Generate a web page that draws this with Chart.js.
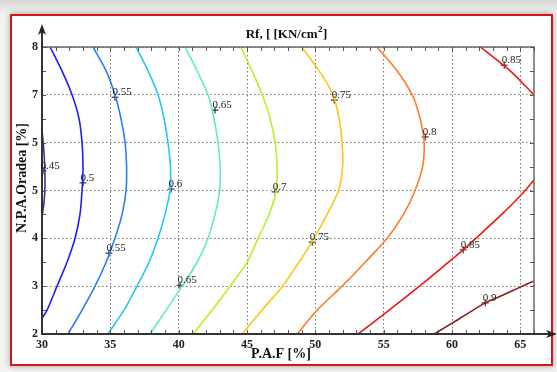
<!DOCTYPE html>
<html>
<head>
<meta charset="utf-8">
<script src="https://cdn.jsdelivr.net/npm/chart.js@4.4.1/dist/chart.umd.min.js"></script>
<style>
html,body{margin:0;padding:0;width:557px;height:372px;overflow:hidden;
  background:linear-gradient(#d6d6d6,#f2f2f2 14px,#f2f2f2);}
#frame{position:absolute;left:10px;top:14px;width:539px;height:348px;
  border:2px solid #d2151b;background:#fff;box-shadow:0 0 6px rgba(0,0,0,.35);}
canvas{position:absolute;left:0;top:0;}
</style>
</head>
<body>
<div id="frame"></div>
<canvas id="c" width="557" height="372"></canvas>
<script>
// Axes
const xRange = [30, 66];
const yRange = [2, 8];
const xTickValues = [30, 35, 40, 45, 50, 55, 60, 65];
const yTickValues = [2, 3, 4, 5, 6, 7, 8];
const yTickLabels = ['2', '3', '4', '5', '5', '7', '8'];

// Contour lines of Rf, each as [P.A.F, N.P.A.Oradea] pairs
const c045 = [[30.0,6.26],[30.12,5.9],[30.2,5.5],[30.22,5.1],[30.15,4.75],[30.0,4.45]];
const c050 = [[30.59,8],[31.46,7.5],[32.20,7],[32.71,6.5],[32.93,6],[33.0,5.5],[32.93,5],[32.78,4.5],[32.42,4],[31.83,3.5],[31.10,3],[30.37,2.5],[30.0,2.33]];
const c055 = [[33.73,8],[34.69,7.5],[35.34,7],[35.78,6.5],[36.08,6],[36.19,5.5],[36.15,5],[35.86,4.5],[35.34,4],[34.69,3.5],[33.88,3],[32.93,2.5],[31.90,2]];
const c060 = [[36.88,8],[37.76,7.5],[38.49,7],[38.93,6.5],[39.22,6],[39.40,5.5],[39.37,5],[39.0,4.5],[38.49,4],[37.83,3.5],[36.95,3],[36.0,2.5],[34.83,2]];
const c065 = [[40.47,8],[41.35,7.5],[42.15,7],[42.59,6.5],[42.88,6],[43.03,5.5],[43.00,5],[42.66,4.5],[42.15,4],[41.35,3.5],[40.25,3],[39.08,2.5],[37.91,2]];
const c070 = [[44.55,8],[45.37,7.5],[46.11,7],[46.69,6.5],[47.06,6],[47.20,5.5],[47.13,5],[46.62,4.5],[45.81,4],[45.01,3.5],[43.76,3],[42.45,2.5],[41.05,2]];
const c075 = [[49.0,8],[50.28,7.5],[51.30,7],[51.74,6.5],[51.96,6],[52.0,5.5],[51.70,5],[50.86,4.5],[49.91,4],[48.8,3.5],[47.6,3],[46.1,2.5],[44.64,2]];
const c080 = [[54.52,8],[55.99,7.5],[57.09,7],[57.67,6.5],[57.96,6],[57.85,5.5],[57.3,5],[56.45,4.5],[55.26,4],[53.65,3.5],[51.96,3],[50.13,2.5],[48.67,2]];
const c085a = [[62.07,8],[64.26,7.5],[66,7]];
const c085b = [[66,5.22],[65.07,4.91],[63.60,4.49],[61.70,3.99],[60.82,3.76],[59.65,3.48],[57.53,2.98],[55.40,2.5],[53.13,2]];
const c090 = [[66,3.11],[65,2.98],[63.53,2.79],[62.43,2.65],[60.60,2.33],[58.70,2]];

const contours = [c045, c050, c055, c060, c065, c070, c075, c080, c085a, c085b, c090];
const contourLevels = ['0.45','0.5','0.55','0.6','0.65','0.7','0.75','0.8','0.85','0.85','0.9'];
const contourColors = ['#3434a6','#1f1ff0','#2f7cf5','#25c8f5','#5ff0b0','#b8f02a','#f7c818','#ff7a2a','#ee1616','#ee1616','#8a1a1a'];

// Inline level labels (marker position and text)
const labelX = [30.07, 33.0, 35.34, 34.9, 39.44, 42.66, 40.10, 47.06, 51.38, 49.77, 58.04, 63.82, 60.82, 62.43];
const labelY = [5.41, 5.16, 6.95, 3.69, 5.03, 6.68, 3.02, 4.97, 6.89, 3.92, 6.12, 7.62, 3.76, 2.65];
const labelText = ['0.45','0.5','0.55','0.55','0.6','0.65','0.65','0.7','0.75','0.75','0.8','0.85','0.85','0.9'];

const titleMain = 'Rf, [ [KN/cm';
const titleSup = '2';
const titleEnd = ']';
const xTitle = 'P.A.F [%]';
const yTitle = 'N.P.A.Oradea [%]';

const serif = '"Liberation Serif", "Times New Roman", serif';

const datasets = contours.map((pts, i) => ({
  label: contourLevels[i],
  data: pts.map(p => ({x: p[0], y: p[1]})),
  showLine: true,
  borderColor: contourColors[i],
  borderWidth: 1.6,
  pointRadius: 0,
  tension: 0.25,
  fill: false
}));
datasets.push({
  label: 'levels',
  data: labelX.map((v, i) => ({x: v, y: labelY[i]})),
  showLine: false,
  pointStyle: 'cross',
  pointRadius: 3.5,
  borderColor: '#111',
  borderWidth: 1
});

function seg(ctx, x1, y1, x2, y2) {
  ctx.beginPath(); ctx.moveTo(x1, y1); ctx.lineTo(x2, y2); ctx.stroke();
}

const decor = {
  id: 'decor',
  afterDatasetsDraw(chart) {
    const {ctx, chartArea: a, scales: {x, y}} = chart;
    ctx.save();
    // upper and right frame
    ctx.strokeStyle = '#6a6a6a'; ctx.lineWidth = 1.5;
    ctx.beginPath(); ctx.moveTo(a.left, a.top); ctx.lineTo(a.right, a.top); ctx.lineTo(a.right, a.bottom); ctx.stroke();
    // minor ticks, pointing inward
    ctx.strokeStyle = '#555'; ctx.lineWidth = 1;
    for (let v = xRange[0]; v <= xRange[1]; v++) {
      const px = Math.round(x.getPixelForValue(v)) + 0.5;
      seg(ctx, px, a.bottom, px, a.bottom - 4);
      seg(ctx, px, a.top, px, a.top + 4);
    }
    for (let v = yRange[0]; v <= yRange[1]; v += 0.5) {
      const py = Math.round(y.getPixelForValue(v)) + 0.5;
      seg(ctx, a.left, py, a.left + 4, py);
      seg(ctx, a.right, py, a.right - 4, py);
    }
    // axes with arrow heads
    ctx.strokeStyle = '#333'; ctx.fillStyle = '#222'; ctx.lineWidth = 2;
    seg(ctx, a.left, a.bottom + 1, a.left, a.top - 18);
    seg(ctx, a.left - 1, a.bottom, a.right + 18, a.bottom);
    ctx.beginPath();
    ctx.moveTo(a.left, a.top - 23); ctx.lineTo(a.left - 4, a.top - 12); ctx.lineTo(a.left, a.top - 15); ctx.lineTo(a.left + 4, a.top - 12); ctx.closePath(); ctx.fill();
    ctx.beginPath();
    ctx.moveTo(a.right + 23, a.bottom); ctx.lineTo(a.right + 12, a.bottom - 4); ctx.lineTo(a.right + 15, a.bottom); ctx.lineTo(a.right + 12, a.bottom + 4); ctx.closePath(); ctx.fill();

    // level labels
    ctx.fillStyle = '#222';
    ctx.font = '11px ' + serif;
    ctx.textAlign = 'left'; ctx.textBaseline = 'middle';
    labelText.forEach((t, i) => {
      const px = x.getPixelForValue(labelX[i]);
      const py = y.getPixelForValue(labelY[i]);
      ctx.fillText(t, px - 2.5, py - 5);
    });

    // title with superscript
    ctx.fillStyle = '#111';
    ctx.textBaseline = 'alphabetic';
    const fMain = 'bold 13px ' + serif, fSup = 'bold 9px ' + serif;
    ctx.font = fMain; const w1 = ctx.measureText(titleMain).width, w3 = ctx.measureText(titleEnd).width;
    ctx.font = fSup; const w2 = ctx.measureText(titleSup).width;
    let tx = 286 - (w1 + w2 + w3) / 2;
    const ty = 38;
    ctx.font = fMain; ctx.fillText(titleMain, tx, ty); tx += w1;
    ctx.font = fSup; ctx.fillText(titleSup, tx + 0.5, ty - 6); tx += w2 + 1;
    ctx.font = fMain; ctx.fillText(titleEnd, tx, ty);

    // axis titles
    ctx.font = 'bold 14px ' + serif;
    ctx.textAlign = 'center'; ctx.textBaseline = 'middle';
    ctx.fillText(xTitle, 281, 354);
    ctx.save();
    ctx.translate(22, 178); ctx.rotate(-Math.PI / 2);
    ctx.fillText(yTitle, 0, 0);
    ctx.restore();
    ctx.restore();
  }
};

new Chart(document.getElementById('c'), {
  type: 'scatter',
  data: {datasets},
  options: {
    responsive: false,
    animation: false,
    devicePixelRatio: 1,
    layout: {padding: {left: 0, top: 47, right: 23, bottom: 0}},
    plugins: {legend: {display: false}, tooltip: {enabled: false}, title: {display: false}},
    scales: {
      x: {
        type: 'linear', min: xRange[0], max: xRange[1],
        afterFit(s) { s.height = 38; },
        afterBuildTicks(s) { s.ticks = xTickValues.map(v => ({value: v})); },
        grid: {color: '#777', lineWidth: 1, drawTicks: false},
        border: {display: false, dash: [1.5, 2.5]},
        ticks: {padding: 4, color: '#222', font: {family: serif, size: 12, weight: 'bold'}, maxRotation: 0,
          callback: v => String(v)}
      },
      y: {
        type: 'linear', min: yRange[0], max: yRange[1],
        afterFit(s) { s.width = 42; },
        afterBuildTicks(s) { s.ticks = yTickValues.map(v => ({value: v})); },
        grid: {color: '#777', lineWidth: 1, drawTicks: false},
        border: {display: false, dash: [1.5, 2.5]},
        ticks: {padding: 4, color: '#222', font: {family: serif, size: 12, weight: 'bold'},
          callback: (v) => yTickLabels[yTickValues.indexOf(v)]}
      }
    }
  },
  plugins: [decor]
});
</script>
</body>
</html>
